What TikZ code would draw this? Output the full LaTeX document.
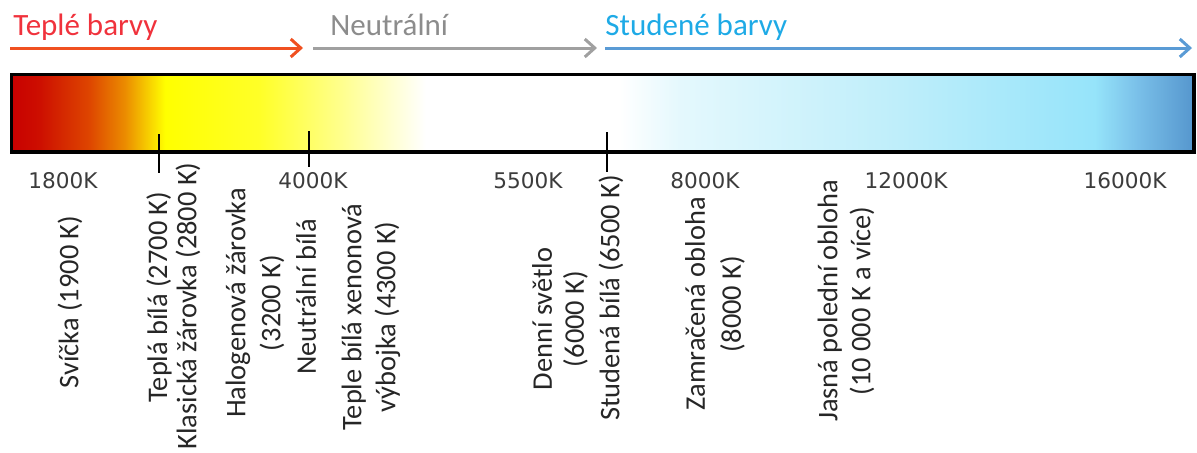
\documentclass[tikz,border=0pt]{standalone}
\usepackage{fontspec}
\setmainfont{Carlito}
\newfontfamily\tickfont{DejaVu Sans}
\usetikzlibrary{arrows.meta}
\definecolor{warmred}{HTML}{F0323C}
\definecolor{warmarrow}{HTML}{F05020}
\definecolor{neutgray}{HTML}{8C8C8C}
\definecolor{neutarrow}{HTML}{A0A0A0}
\definecolor{coldblue}{HTML}{1EAAE6}
\definecolor{coldarrow}{HTML}{5A9BD5}
\definecolor{ticktext}{HTML}{3C3C3C}
\pgfdeclarehorizontalshading{kelvin}{100bp}{%
  rgb(0bp)=(.784,0,0); rgb(25bp)=(.784,0,0);
  rgb(26.2bp)=(.804,.059,0); rgb(28.3bp)=(.871,.275,0);
  rgb(29.8bp)=(.922,.549,0); rgb(30.9bp)=(.973,.843,0);
  rgb(31.5bp)=(1,1,0); rgb(35.5bp)=(1,1,.157);
  rgb(38.9bp)=(1,1,.549); rgb(42.5bp)=(1,1,1);
  rgb(50.7bp)=(1,1,1); rgb(53.3bp)=(.894,.973,.992);
  rgb(62.6bp)=(.745,.933,.980); rgb(70.8bp)=(.588,.894,.980);
  rgb(72.7bp)=(.471,.745,.910); rgb(75bp)=(.333,.588,.804);
  rgb(100bp)=(.333,.588,.804)}

\begin{document}
\begin{tikzpicture}[
        x=0.5pt, y=-0.5pt,
        title/.style={
          anchor=base west,
          inner sep=0pt,
          font=\fontsize{15.5}{18}\selectfont
        },
        arrow/.style={
          -{Straight Barb[length=5pt,width=9pt]},
          line width=1.5pt
        },
        kval/.style={
          inner sep=0pt,
          text=ticktext,
          font=\tickfont\fontsize{10.8}{13}\selectfont
        },
        lamp/.style={
          rotate=90,
          inner sep=0pt,
          align=center,
          text=black!85,
          font=\fontsize{14.2}{16.5}\selectfont
        },
        tick/.style={
          line width=1.2pt
        }
      ]

      \useasboundingbox (0,0) rectangle (1197,452);

      % arrow ends
      \coordinate (warmL) at (10,48);
      \coordinate (warmR) at (303,48);
      \coordinate (neutL) at (313,48);
      \coordinate (neutR) at (597,48);
      \coordinate (coldL) at (605,48);
      \coordinate (coldR) at (1192,48);

      \node[title, text=warmred] (warm) at (13,35) {Teplé barvy};
      \node[title, text=neutgray] (neut) at (330,35) {Neutrální};
      \node[title, text=coldblue] (cold) at (605,35) {Studené barvy};

      \draw[arrow, warmarrow] (warmL) -- (warmR);
      \draw[arrow, neutarrow] (neutL) -- (neutR);
      \draw[arrow, coldarrow] (coldL) -- (coldR);

      % colour bar
      \shade[shading=kelvin] (11.5,74.5) rectangle (1194,152);
      \draw[line width=1.75pt] (11.5,74.5) rectangle (1194,152);

      \draw[tick] (159,134) -- (159,173);
      \draw[tick] (309,131) -- (309,167);
      \draw[tick] (607,132) -- (607,172);

      % scale values
      \node[kval] (k1800) at (63,181) {1800K};
      \node[kval] (k4000) at (313,181) {4000K};
      \node[kval] (k5500) at (528,181) {5500K};
      \node[kval] (k8000) at (705,181) {8000K};
      \node[kval] (k12000) at (906,181) {12000K};
      \node[kval] (k16000) at (1125,181) {16000K};

      % light sources
      \node[lamp] (svicka) at (70,302) {Svíčka (1900 K)};
      \node[lamp] (tepla) at (159,297) {Teplá bílá (2700 K)};
      \node[lamp] (klasicka) at (188,306) {Klasická žárovka (2800 K)};
      \node[lamp, font=\fontsize{14.2}{17.5}\selectfont] (halogen) at (255,303) {Halogenová žárovka\\(3200 K)};
      \node[lamp] (neutralni) at (306,297) {Neutrální bílá};
      \node[lamp, font=\fontsize{14.2}{17}\selectfont] (xenon) at (371,317) {Teple bílá xenonová\\výbojka (4300 K)};
      \node[lamp, font=\fontsize{14.2}{16}\selectfont] (denni) at (560,319) {Denní světlo\\(6000 K)};
      \node[lamp] (studena) at (611,298) {Studená bílá (6500 K)};
      \node[lamp, font=\fontsize{14.2}{18}\selectfont] (zamracena) at (715,304) {Zamračená obloha\\(8000 K)};
      \node[lamp] (jasna) at (846,301) {Jasná polední obloha\\(10 000 K a více)};

      \end{tikzpicture}
\end{document}
